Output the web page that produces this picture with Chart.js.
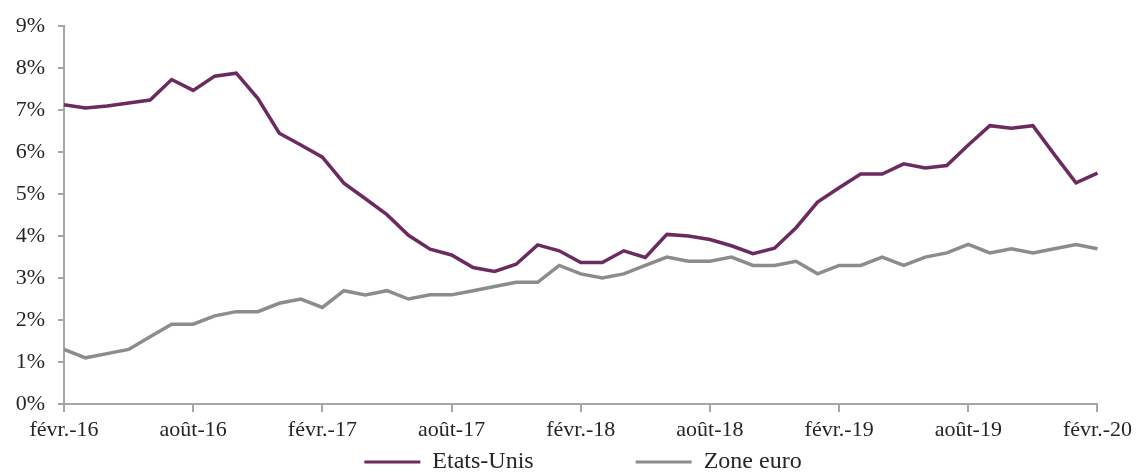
<!DOCTYPE html>
<html>
<head>
<meta charset="utf-8">
<script src="https://cdn.jsdelivr.net/npm/chart.js@4/dist/chart.umd.min.js"></script>
<style>
  html, body { margin: 0; padding: 0; background: #fff; }
  #wrap { width: 1137px; height: 475px; position: relative; }
</style>
</head>
<body>
<div id="wrap"><canvas id="chart"></canvas></div>
<script>
const months = [
  "févr.-16", "mars-16", "avr.-16", "mai-16", "juin-16", "juil.-16", "août-16", "sept.-16", "oct.-16", "nov.-16", "déc.-16", "janv.-17",
  "févr.-17", "mars-17", "avr.-17", "mai-17", "juin-17", "juil.-17", "août-17", "sept.-17", "oct.-17", "nov.-17", "déc.-17", "janv.-18",
  "févr.-18", "mars-18", "avr.-18", "mai-18", "juin-18", "juil.-18", "août-18", "sept.-18", "oct.-18", "nov.-18", "déc.-18", "janv.-19",
  "févr.-19", "mars-19", "avr.-19", "mai-19", "juin-19", "juil.-19", "août-19", "sept.-19", "oct.-19", "nov.-19", "déc.-19", "janv.-20",
  "févr.-20"
];

const etatsUnis = [
  7.13, 7.05, 7.10, 7.17, 7.24, 7.73, 7.47, 7.81, 7.88, 7.28, 6.45, 6.17,
  5.88, 5.26, 4.89, 4.51, 4.02, 3.69, 3.55, 3.25, 3.16, 3.33, 3.79, 3.65,
  3.37, 3.37, 3.65, 3.49, 4.04, 4.00, 3.92, 3.77, 3.58, 3.71, 4.20, 4.81,
  5.15, 5.48, 5.48, 5.72, 5.62, 5.68, 6.17, 6.63, 6.57, 6.63, 5.94, 5.27,
  5.50
];

const zoneEuro = [
  1.3, 1.1, 1.2, 1.3, 1.6, 1.9, 1.9, 2.1, 2.2, 2.2, 2.4, 2.5,
  2.3, 2.7, 2.6, 2.7, 2.5, 2.6, 2.6, 2.7, 2.8, 2.9, 2.9, 3.3,
  3.1, 3.0, 3.1, 3.3, 3.5, 3.4, 3.4, 3.5, 3.3, 3.3, 3.4, 3.1,
  3.3, 3.3, 3.5, 3.3, 3.5, 3.6, 3.8, 3.6, 3.7, 3.6, 3.7, 3.8,
  3.7
];

const yTicks = [0, 1, 2, 3, 4, 5, 6, 7, 8, 9];

const seriesNames = ["Etats-Unis", "Zone euro"];
const seriesColors = ["#6b2a60", "#8c8c8c"];

const axisColor = "#a6a6a6";
const textColor = "#262626";
const fontFamily = "'Liberation Serif', 'Times New Roman', serif";

// push the legend to where the original puts it
const legendShift = {
  id: "legendShift",
  afterLayout(chart) {
    const lg = chart.legend;
    if (!lg) return;
    lg.left += 34; lg.right += 34;
    lg.top += 9; lg.bottom += 9;
  }
};

const ctx = document.getElementById("chart");

new Chart(ctx, {
  type: "line",
  data: {
    labels: months,
    datasets: [
      {
        label: seriesNames[0],
        data: etatsUnis,
        borderColor: seriesColors[0],
        backgroundColor: seriesColors[0],
        borderWidth: 3.5,
        pointRadius: 0,
        tension: 0
      },
      {
        label: seriesNames[1],
        data: zoneEuro,
        borderColor: seriesColors[1],
        backgroundColor: seriesColors[1],
        borderWidth: 3.5,
        pointRadius: 0,
        tension: 0
      }
    ]
  },
  options: {
    responsive: true,
    maintainAspectRatio: false,
    animation: false,
    layout: {
      padding: { top: 24, right: 39, bottom: 0, left: 0 }
    },
    plugins: {
      tooltip: { enabled: false },
      legend: {
        position: "bottom",
        labels: {
          color: textColor,
          font: { family: fontFamily, size: 24 },
          boxWidth: 56,
          boxHeight: 3,
          padding: 0,
          generateLabels(chart) {
            return chart.data.datasets.map((ds, i) => ({
              // trailing spaces widen the gap between the two entries
              text: i === 0 ? ds.label + "                 " : ds.label,
              fillStyle: ds.borderColor,
              strokeStyle: ds.borderColor,
              lineWidth: 0,
              fontColor: textColor,
              hidden: false,
              datasetIndex: i
            }));
          }
        }
      }
    },
    scales: {
      x: {
        offset: false,
        afterFit(scale) { scale.height = 37; },
        border: { color: axisColor, width: 2 },
        grid: {
          display: true,
          drawOnChartArea: false,
          drawTicks: true,
          tickLength: 8,
          color: axisColor,
          lineWidth: 2
        },
        ticks: {
          autoSkip: false,
          maxRotation: 0,
          minRotation: 0,
          padding: 5,
          color: textColor,
          font: { family: fontFamily, size: 22 },
          callback(value, index) {
            return index % 6 === 0 ? months[index] : null;
          }
        }
      },
      y: {
        min: 0,
        max: 9,
        afterFit(scale) { scale.width = 64; },
        afterBuildTicks(scale) {
          scale.ticks = yTicks.map(v => ({ value: v }));
        },
        border: { color: axisColor, width: 2 },
        grid: {
          display: true,
          drawOnChartArea: false,
          drawTicks: true,
          tickLength: 6,
          color: axisColor,
          lineWidth: 2
        },
        ticks: {
          padding: 13,
          color: textColor,
          font: { family: fontFamily, size: 22 },
          callback(value) { return value + "%"; }
        }
      }
    }
  },
  plugins: [legendShift]
});
</script>
</body>
</html>
